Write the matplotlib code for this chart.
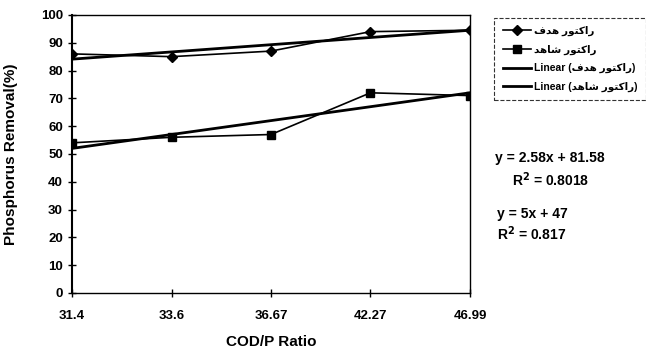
import matplotlib
matplotlib.use("Agg")
import matplotlib.pyplot as plt
import numpy as np

plt.rcParams["font.family"] = ["Liberation Sans", "DejaVu Sans"]
plt.rcParams["font.weight"] = "bold"

# data
cod_p_labels = ["31.4", "33.6", "36.67", "42.27", "46.99"]
target_reactor = [86, 85, 87, 94, 94.5]
control_reactor = [54, 56, 57, 72, 71]
name_target = "راکتور هدف"
name_control = "راکتور شاهد"
eq_target = ["y = 2.58x + 81.58", "R$^2$ = 0.8018"]
eq_control = ["y = 5x + 47", "R$^2$ = 0.817"]

# matplotlib does no arabic shaping, so pick presentation forms by hand
# forms: (isolated, final, initial, medial)
_FORMS = {
    "ر": ("\uFEAD", "\uFEAE", None, None),
    "ا": ("\uFE8D", "\uFE8E", None, None),
    "د": ("\uFEA9", "\uFEAA", None, None),
    "و": ("\uFEED", "\uFEEE", None, None),
    "ک": ("\uFB8E", "\uFB8F", "\uFB90", "\uFB91"),
    "ت": ("\uFE95", "\uFE96", "\uFE97", "\uFE98"),
    "ه": ("\uFEE9", "\uFEEA", "\uFEEB", "\uFEEC"),
    "ف": ("\uFED1", "\uFED2", "\uFED3", "\uFED4"),
    "ش": ("\uFEB5", "\uFEB6", "\uFEB7", "\uFEB8"),
}


def shape(text):
    out = []
    for i, ch in enumerate(text):
        if ch not in _FORMS:
            out.append(ch)
            continue
        prev = text[i - 1] if i > 0 else ""
        nxt = text[i + 1] if i + 1 < len(text) else ""
        join_prev = prev in _FORMS and _FORMS[prev][2] is not None
        join_next = nxt in _FORMS and _FORMS[ch][2] is not None
        iso, fin, ini, med = _FORMS[ch]
        if join_prev and join_next:
            out.append(med)
        elif join_prev:
            out.append(fin)
        elif join_next:
            out.append(ini)
        else:
            out.append(iso)
    return "".join(reversed(out))


fig = plt.figure(figsize=(6.46, 3.56), dpi=100)
ax = fig.add_axes([0.1115, 0.177, 0.616, 0.781])

x = np.arange(len(cod_p_labels))
ax.plot(x, target_reactor, color="black", lw=1.2, marker="D", ms=5,
        label=shape(name_target))
ax.plot(x, control_reactor, color="black", lw=1.2, marker="s", ms=6,
        label=shape(name_control))

# linear trendlines, as excel would draw them
for ys, nm in [(target_reactor, name_target), (control_reactor, name_control)]:
    k, b = np.polyfit(x + 1, ys, 1)
    ax.plot(x, k * (x + 1) + b, color="black", lw=2.0,
            label="Linear (" + shape(nm) + ")")

ax.set_xlim(0, len(cod_p_labels) - 1)
ax.set_ylim(0, 100)
ax.set_yticks(np.arange(0, 101, 10))
ax.set_xticks(x)
ax.set_xticklabels(cod_p_labels)
ax.tick_params(direction="inout", length=6, width=1, labelsize=9.5, colors="black")
ax.tick_params(axis="x", pad=9)
for s in ax.spines.values():
    s.set_linewidth(1.0)
ax.spines["left"].set_linewidth(1.5)

ax.set_xlabel("COD/P Ratio", fontsize=11, fontweight="bold")
ax.set_ylabel("Phosphorus Removal(%)", fontsize=11, fontweight="bold")
ax.xaxis.set_label_coords(0.5, -0.15)
ax.yaxis.set_label_coords(-0.135, 0.5)

leg = fig.legend(loc="upper left", bbox_to_anchor=(0.765, 0.950), fontsize=7.5,
                 handlelength=2.7, handletextpad=0.3, labelspacing=0.8,
                 borderpad=0.8, borderaxespad=0.0, fancybox=False, frameon=True)
leg.get_frame().set_edgecolor("black")
leg.get_frame().set_linestyle("--")
leg.get_frame().set_linewidth(0.8)

fig.text(0.766, 0.556, eq_target[0], fontsize=10, va="center")
fig.text(0.793, 0.494, eq_target[1], fontsize=10, va="center")
fig.text(0.769, 0.400, eq_control[0], fontsize=10, va="center")
fig.text(0.769, 0.343, eq_control[1], fontsize=10, va="center")

fig.savefig("out.png", dpi=100)
